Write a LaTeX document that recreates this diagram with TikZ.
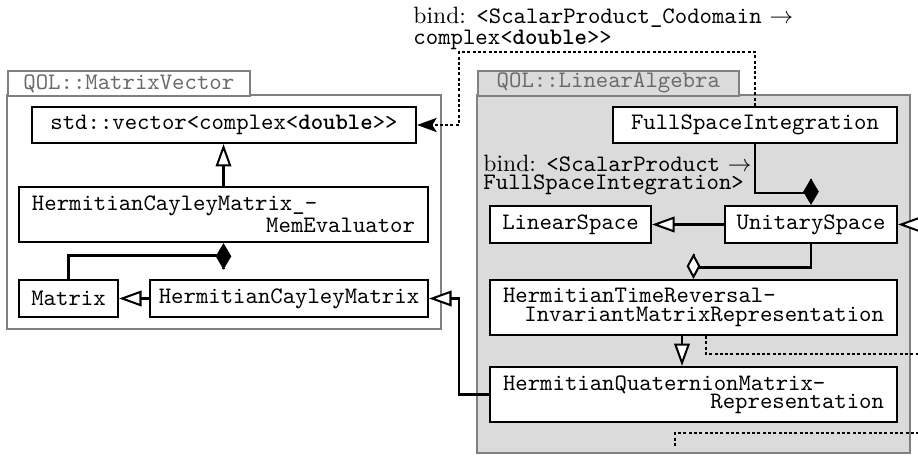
\documentclass[tikz,border=0pt]{standalone}
\usetikzlibrary{arrows.meta}
\newlength\pxu
\setlength\pxu{0.4234pt}
\definecolor{pkgline}{gray}{0.5}
\definecolor{pkgtext}{gray}{0.42}
\definecolor{pkgfill}{gray}{0.86}
\begin{document}
\begin{tikzpicture}[x=0.4234pt,y=-0.4234pt,
  cls/.style={draw, line width=0.9pt, fill=white, font=\ttfamily, inner sep=0pt, minimum height=36\pxu},
  cls2/.style={draw, line width=0.9pt, fill=white, font=\ttfamily\fontsize{10}{7.8}\selectfont, inner xsep=13\pxu, inner ysep=0pt, minimum height=55\pxu, align=left},
  pkg/.style={draw=pkgline, line width=0.7pt},
  pkgtab/.style={pkg, font=\ttfamily, text=pkgtext, inner sep=0pt, minimum height=25\pxu, anchor=north west},
  lbl/.style={font=\fontsize{10}{7.5}\selectfont, align=left, inner sep=0pt, anchor=north west},
  conn/.style={line width=0.85pt},
  gen/.style={conn, -{Triangle[open, fill=white, length=9.5pt, width=6.6pt]}},
  comptip/.style={conn, -{Diamond[length=11.2pt, width=6.6pt]}},
  aggtip/.style={conn, -{Diamond[open, fill=white, length=10.8pt, width=5.8pt]}},
  dep/.style={conn, dash pattern=on 1.27pt off 0.97pt},
  deparrow/.style={dep, -{Stealth[length=8.3pt, width=6pt, inset=1.8pt]}}
]
\useasboundingbox (0,0) rectangle (918,457);
\clip (0,0) rectangle (918,457);

% packages
\draw[pkg, fill=white] (7,95) rectangle (441,329);
\node[pkgtab, fill=white, minimum width=242\pxu] (tabL) at (7,70) {QOL::MatrixVector};
\draw[pkg, fill=pkgfill] (477,95) rectangle (910,453);
\node[pkgtab, fill=pkgfill, minimum width=261\pxu] (tabR) at (477,70) {QOL::LinearAlgebra};

% classes
\node[cls, minimum width=384\pxu] (vec) at (224,125) {std::vector<complex<\textbf{double}>>};
\node[cls2, text width=383\pxu] (mem) at (223.5,214.5) {HermitianCayleyMatrix\_-\\\hspace*{\fill}MemEvaluator};
\node[cls, minimum width=99\pxu, minimum height=37\pxu] (mat) at (68.5,298.5) {Matrix};
\node[cls, minimum width=278\pxu, minimum height=37\pxu] (hcm) at (289,298.5) {HermitianCayleyMatrix};
\node[cls, minimum width=284\pxu] (fsi) at (755,125) {FullSpaceIntegration};
\node[cls, minimum width=161\pxu, minimum height=37\pxu] (ls) at (570.5,224.5) {LinearSpace};
\node[cls, minimum width=172\pxu, minimum height=37\pxu] (us) at (811,224.5) {UnitarySpace};
\node[cls2, text width=381\pxu] (htr) at (693.5,307.5) {HermitianTimeReversal-\\\hspace*{\fill}InvariantMatrixRepresentation};
\node[cls2, text width=381\pxu] (hqm) at (693.5,394.5) {HermitianQuaternionMatrix-\\\hspace*{\fill}Representation};

% labels
\node[lbl] (bindA) at (413,7) {bind: \texttt{<ScalarProduct\_Codomain} $\rightarrow$\\\texttt{complex<\textbf{double}>>}};
\node[lbl] (bindB) at (483,155) {bind: \texttt{<ScalarProduct} $\rightarrow$\\\texttt{FullSpaceIntegration>}};

% free ends
\coordinate (outA) at (950,224.5);
\coordinate (outB) at (935,354);
\coordinate (outC) at (935,433);

% connectors
\draw[gen] (mem.north) -- (mem.north |- vec.south);
\draw[gen] (hcm.west) -- (mat.east);
\draw[conn] (mat.north) |- (mem.south |- 0,255.5);
\draw[comptip] (mem.south |- 0,269) -- (mem.south);
\draw[gen] (hqm.west) -- (hqm.west -| 459,0) |- (hcm.east);
\draw[deparrow] (fsi.north) |- (459,52) |- (vec.east);
\draw[gen] (us.west) -- (ls.east);
\draw[conn] (fsi.south) |- (us.north |- 0,193);
\draw[comptip] (us.north |- 0,179) -- (us.north);
\draw[conn] (us.south) |- (htr.north |- 0,267.5);
\draw[aggtip] (htr.north |- 0,254) -- (htr.north);
\draw[gen] (htr.south -| 682,0) -- (hqm.north -| 682,0);
\draw[dep] (htr.south -| 706,0) |- (outB);
\draw[dep] (outC) -| (675,446);
\draw[gen] (outA) -- (us.east);
\end{tikzpicture}
\end{document}
